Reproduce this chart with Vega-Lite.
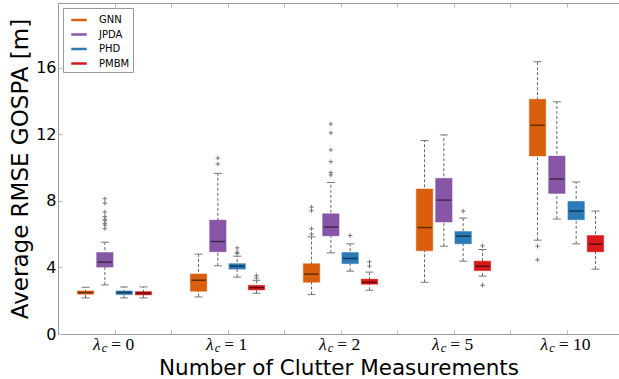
{
  "$schema": "https://vega.github.io/schema/vega-lite/v6.json",
  "width": 561,
  "height": 331,
  "autosize": {"type": "none"},
  "padding": {"left": 58, "top": 3, "right": 0, "bottom": 45},
  "background": "white",
  "config": {
    "view": {"stroke": null},
    "font": "DejaVu Sans",
    "axis": {"grid": false, "labelFlush": false, "labelOverlap": false, "labelBound": false, "labelColor": "black", "titleColor": "black", "titleFontWeight": "normal"}
  },
  "datasets": {
    "stats": [
      {"lambda": "0", "method": "GNN", "lo": 2.17, "q1": 2.39, "med": 2.49, "q3": 2.59, "hi": 2.81},
      {"lambda": "0", "method": "JPDA", "lo": 2.95, "q1": 4.02, "med": 4.32, "q3": 4.90, "hi": 5.52},
      {"lambda": "0", "method": "PHD", "lo": 2.17, "q1": 2.37, "med": 2.49, "q3": 2.59, "hi": 2.83},
      {"lambda": "0", "method": "PMBM", "lo": 2.17, "q1": 2.35, "med": 2.45, "q3": 2.55, "hi": 2.83},
      {"lambda": "1", "method": "GNN", "lo": 2.23, "q1": 2.57, "med": 3.23, "q3": 3.61, "hi": 4.80},
      {"lambda": "1", "method": "JPDA", "lo": 4.10, "q1": 4.94, "med": 5.56, "q3": 6.85, "hi": 9.66},
      {"lambda": "1", "method": "PHD", "lo": 3.42, "q1": 3.90, "med": 4.08, "q3": 4.23, "hi": 4.68},
      {"lambda": "1", "method": "PMBM", "lo": 2.45, "q1": 2.65, "med": 2.79, "q3": 2.93, "hi": 3.23},
      {"lambda": "2", "method": "GNN", "lo": 2.37, "q1": 3.11, "med": 3.60, "q3": 4.23, "hi": 5.84},
      {"lambda": "2", "method": "JPDA", "lo": 4.88, "q1": 5.90, "med": 6.43, "q3": 7.23, "hi": 9.11},
      {"lambda": "2", "method": "PHD", "lo": 3.78, "q1": 4.23, "med": 4.54, "q3": 4.90, "hi": 5.42},
      {"lambda": "2", "method": "PMBM", "lo": 2.63, "q1": 2.99, "med": 3.11, "q3": 3.30, "hi": 3.72},
      {"lambda": "5", "method": "GNN", "lo": 3.11, "q1": 5.00, "med": 6.40, "q3": 8.72, "hi": 11.63},
      {"lambda": "5", "method": "JPDA", "lo": 5.28, "q1": 6.73, "med": 8.05, "q3": 9.36, "hi": 11.97},
      {"lambda": "5", "method": "PHD", "lo": 4.38, "q1": 5.42, "med": 5.88, "q3": 6.16, "hi": 6.97},
      {"lambda": "5", "method": "PMBM", "lo": 3.48, "q1": 3.81, "med": 4.08, "q3": 4.38, "hi": 5.08},
      {"lambda": "10", "method": "GNN", "lo": 5.64, "q1": 10.70, "med": 12.55, "q3": 14.11, "hi": 16.37},
      {"lambda": "10", "method": "JPDA", "lo": 6.91, "q1": 8.45, "med": 9.32, "q3": 10.70, "hi": 13.96},
      {"lambda": "10", "method": "PHD", "lo": 5.42, "q1": 6.87, "med": 7.39, "q3": 7.97, "hi": 9.14},
      {"lambda": "10", "method": "PMBM", "lo": 3.90, "q1": 4.94, "med": 5.40, "q3": 5.92, "hi": 7.39}
    ],
    "outliers": [
      {"lambda": "0", "method": "JPDA", "value": 6.34},
      {"lambda": "0", "method": "JPDA", "value": 6.55},
      {"lambda": "0", "method": "JPDA", "value": 6.65},
      {"lambda": "0", "method": "JPDA", "value": 6.81},
      {"lambda": "0", "method": "JPDA", "value": 6.91},
      {"lambda": "0", "method": "JPDA", "value": 7.07},
      {"lambda": "0", "method": "JPDA", "value": 7.33},
      {"lambda": "0", "method": "JPDA", "value": 7.87},
      {"lambda": "0", "method": "JPDA", "value": 8.13},
      {"lambda": "1", "method": "JPDA", "value": 10.22},
      {"lambda": "1", "method": "JPDA", "value": 10.58},
      {"lambda": "1", "method": "PHD", "value": 4.84},
      {"lambda": "1", "method": "PHD", "value": 4.92},
      {"lambda": "1", "method": "PHD", "value": 5.18},
      {"lambda": "1", "method": "PMBM", "value": 3.37},
      {"lambda": "1", "method": "PMBM", "value": 3.51},
      {"lambda": "2", "method": "GNN", "value": 6.00},
      {"lambda": "2", "method": "GNN", "value": 6.33},
      {"lambda": "2", "method": "GNN", "value": 7.41},
      {"lambda": "2", "method": "GNN", "value": 7.63},
      {"lambda": "2", "method": "JPDA", "value": 9.56},
      {"lambda": "2", "method": "JPDA", "value": 9.70},
      {"lambda": "2", "method": "JPDA", "value": 10.36},
      {"lambda": "2", "method": "JPDA", "value": 11.07},
      {"lambda": "2", "method": "JPDA", "value": 12.09},
      {"lambda": "2", "method": "JPDA", "value": 12.63},
      {"lambda": "2", "method": "PHD", "value": 5.92},
      {"lambda": "2", "method": "PMBM", "value": 4.08},
      {"lambda": "2", "method": "PMBM", "value": 4.34},
      {"lambda": "5", "method": "PHD", "value": 7.39},
      {"lambda": "5", "method": "PMBM", "value": 5.30},
      {"lambda": "5", "method": "PMBM", "value": 2.93},
      {"lambda": "10", "method": "GNN", "value": 5.28},
      {"lambda": "10", "method": "GNN", "value": 4.46}
    ]
  },
  "layer": [
    {
      "encoding": {
        "x": {
          "field": "lambda", "type": "nominal", "sort": ["0", "1", "2", "5", "10"],
          "scale": {"type": "band", "range": [0, 565], "paddingInner": 0, "paddingOuter": 0},
          "axis": null
        },
        "xOffset": {
          "field": "method", "type": "nominal", "sort": ["GNN", "JPDA", "PHD", "PMBM"],
          "scale": {"paddingInner": 0.147, "paddingOuter": 1.397}
        }
      },
      "layer": [
        {
          "data": {"name": "stats"},
          "mark": {"type": "rule", "color": "#666666", "strokeDash": [3, 2], "strokeWidth": 1},
          "encoding": {
            "y": {
              "field": "lo", "type": "quantitative",
              "scale": {"domain": [0, 19.9], "nice": false, "zero": true},
              "axis": {
                "orient": "left",
                "values": [0, 4, 8, 12, 16],
                "title": "Average RMSE GOSPA [m]",
                "titleFont": "DejaVu Sans",
                "titleFontSize": 23,
                "titleBaseline": "alphabetic",
                "titleAngle": -90,
                "titleX": -31,
                "titleY": 165.5,
                "labelFont": "DejaVu Sans",
                "labelFontSize": 16,
                "labelPadding": 6,
                "ticks": true,
                "tickSize": -4,
                "tickColor": "#bbbbbb",
                "domainColor": "#999999",
                "domainWidth": 1
              }
            },
            "y2": {"field": "hi"}
          }
        },
        {
          "data": {"name": "stats"},
          "mark": {"type": "bar", "strokeWidth": 1, "strokeOpacity": 0.45, "cornerRadius": 0},
          "encoding": {
            "y": {"field": "q1", "type": "quantitative"},
            "y2": {"field": "q3"},
            "color": {
              "field": "method", "type": "nominal",
              "scale": {"domain": ["GNN", "JPDA", "PHD", "PMBM"], "range": ["#d95f0e", "#8856a7", "#2c7bb6", "#d7191c"]},
              "legend": {
                "title": null,
                "orient": "top-left",
                "offset": 5,
                "symbolType": "stroke",
                "symbolSize": 240,
                "symbolStrokeWidth": 2.5,
                "labelFont": "DejaVu Sans",
                "labelFontSize": 10,
                "labelColor": "black",
                "labelOffset": 11,
                "padding": 3,
                "symbolOffset": 4,
                "rowPadding": 0.5,
                "strokeColor": "#999999",
                "fillColor": "white"
              }
            },
            "stroke": {
              "field": "method", "type": "nominal",
              "scale": {"domain": ["GNN", "JPDA", "PHD", "PMBM"], "range": ["#d95f0e", "#8856a7", "#2c7bb6", "#d7191c"]},
              "legend": null
            }
          }
        },
        {
          "data": {"name": "stats"},
          "mark": {"type": "tick", "color": "#000000", "opacity": 0.55, "thickness": 1.5, "size": 14.5},
          "encoding": {"y": {"field": "med", "type": "quantitative"}}
        },
        {
          "data": {"name": "stats"},
          "mark": {"type": "tick", "color": "#777777", "opacity": 1, "thickness": 1, "size": 8},
          "encoding": {"y": {"field": "lo", "type": "quantitative"}}
        },
        {
          "data": {"name": "stats"},
          "mark": {"type": "tick", "color": "#777777", "opacity": 1, "thickness": 1, "size": 8},
          "encoding": {"y": {"field": "hi", "type": "quantitative"}}
        },
        {
          "data": {"name": "outliers"},
          "mark": {"type": "point", "shape": "M-1,0H1M0,-1V1", "filled": false, "stroke": "#777777", "strokeWidth": 1, "size": 20, "opacity": 1},
          "encoding": {"y": {"field": "value", "type": "quantitative"}}
        }
      ]
    },
    {
      "data": {"values": [{}]},
      "mark": {"type": "point", "opacity": 0},
      "encoding": {
        "x": {
          "datum": 0, "type": "quantitative",
          "scale": {"domain": [-0.5, 4.4646], "nice": false, "zero": false},
          "axis": {
            "orient": "bottom",
            "values": [0, 0.5, 1, 1.5, 2, 2.5, 3, 3.5, 4],
            "labels": false,
            "ticks": true,
            "tickSize": -4,
            "tickColor": "#bbbbbb",
            "domain": true,
            "domainColor": "#999999",
            "title": "Number of Clutter Measurements",
            "titleFont": "DejaVu Sans",
            "titleFontSize": 21.5,
            "titleBaseline": "alphabetic",
            "titleY": 40
          }
        }
      }
    },
    {
      "data": {"values": [{}]},
      "mark": {"type": "point", "opacity": 0},
      "encoding": {
        "x": {
          "datum": 0, "type": "quantitative",
          "scale": {"domain": [-0.5, 4.4646], "nice": false, "zero": false},
          "axis": {
            "orient": "top",
            "values": [0, 0.5, 1, 1.5, 2, 2.5, 3, 3.5, 4],
            "labels": false,
            "ticks": true,
            "tickSize": -4,
            "tickColor": "#bbbbbb",
            "domain": true,
            "domainColor": "#999999",
            "title": null
          }
        }
      }
    },
    {
      "data": {"values": [{}]},
      "mark": {"type": "point", "opacity": 0},
      "encoding": {
        "x": {
          "datum": 0, "type": "quantitative",
          "scale": {"domain": [-0.5, 4.4646], "nice": false, "zero": false},
          "axis": {
            "orient": "bottom",
            "values": [0, 1, 2, 3, 4],
            "domain": false,
            "ticks": false,
            "title": null,
            "labelExpr": "'λ'",
            "labelFont": "Liberation Serif",
            "labelFontStyle": "italic",
            "labelFontSize": 17.5,
            "labelAlign": "right",
            "labelBaseline": "alphabetic",
            "labelPadding": 15.5,
            "labelOffset": {"condition": {"test": "datum.value == 4", "value": -18.9}, "value": -14.4}
          }
        }
      }
    },
    {
      "data": {"values": [{}]},
      "mark": {"type": "point", "opacity": 0},
      "encoding": {
        "x": {
          "datum": 0, "type": "quantitative",
          "scale": {"domain": [-0.5, 4.4646], "nice": false, "zero": false},
          "axis": {
            "orient": "bottom",
            "values": [0, 1, 2, 3, 4],
            "domain": false,
            "ticks": false,
            "title": null,
            "labelExpr": "'c'",
            "labelFont": "Liberation Serif",
            "labelFontStyle": "italic",
            "labelFontSize": 12.5,
            "labelAlign": "left",
            "labelBaseline": "alphabetic",
            "labelPadding": 17,
            "labelOffset": {"condition": {"test": "datum.value == 4", "value": -17.8}, "value": -13.3}
          }
        }
      }
    },
    {
      "data": {"values": [{}]},
      "mark": {"type": "point", "opacity": 0},
      "encoding": {
        "x": {
          "datum": 0, "type": "quantitative",
          "scale": {"domain": [-0.5, 4.4646], "nice": false, "zero": false},
          "axis": {
            "orient": "bottom",
            "values": [0, 1, 2, 3, 4],
            "domain": false,
            "ticks": false,
            "title": null,
            "labelExpr": "'=\u2005' + ['0', '1', '2', '5', '10'][datum.value]",
            "labelFont": "Liberation Serif",
            "labelFontSize": 17.5,
            "labelAlign": "left",
            "labelBaseline": "alphabetic",
            "labelPadding": 15.5,
            "labelOffset": {"condition": {"test": "datum.value == 4", "value": -8.2}, "value": -3.7}
          }
        }
      }
    }
  ],
  "resolve": {"scale": {"x": "independent"}, "axis": {"x": "independent"}}
}
